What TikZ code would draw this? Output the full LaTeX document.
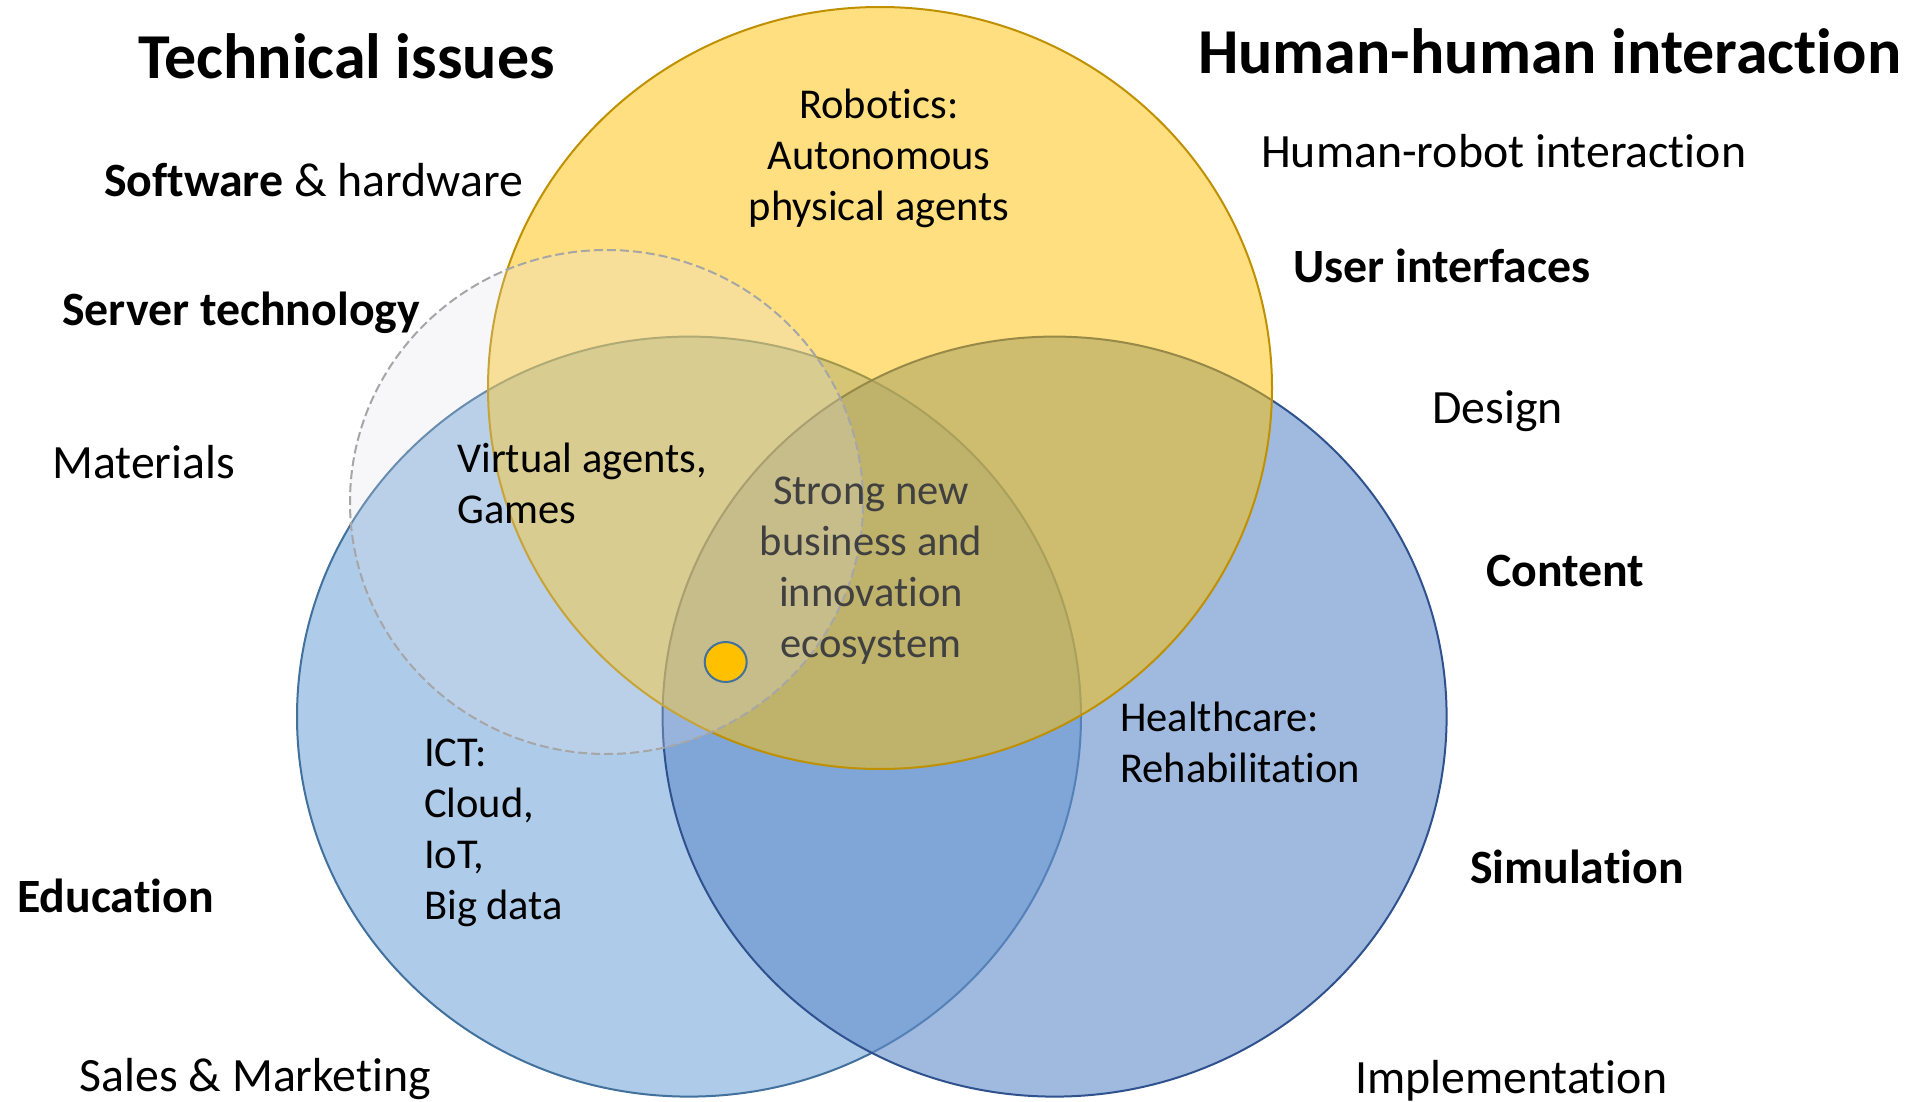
\documentclass[tikz,border=0pt]{standalone}
\usepackage{fontspec}
\setmainfont{Carlito}[Ligatures=NoCommon]
\usetikzlibrary{shapes.geometric}

% stacked lines whose first baseline is the box baseline
\newcommand{\txtlines}[2][c]{\begin{tabular}[t]{@{}#1@{}}#2\end{tabular}}

\definecolor{blueL}{RGB}{174,203,233}
\definecolor{blueLedge}{RGB}{65,113,156}
\definecolor{blueR}{RGB}{98,140,203}
\definecolor{blueRedge}{RGB}{47,82,143}
\definecolor{gold}{RGB}{255,192,0}
\definecolor{goldedge}{RGB}{191,144,0}
\definecolor{haze}{RGB}{225,225,235}
\definecolor{dashgray}{RGB}{166,166,166}
\definecolor{textgray}{RGB}{64,64,64}

\begin{document}
\begin{tikzpicture}[x=1pt,y=-1pt,
  title/.style={anchor=base west,inner sep=0pt,font=\fontsize{64}{77}\selectfont\bfseries},
  lbl/.style={anchor=base west,inner sep=0pt,font=\fontsize{47.8}{57}\selectfont},
  blbl/.style={lbl,font=\fontsize{47.8}{57}\selectfont\bfseries},
  area/.style={inner sep=0pt,font=\fontsize{42.5}{51}\selectfont},
  setL/.style={fill=blueL,draw=blueLedge,line width=2pt},
  setR/.style={fill=blueR,fill opacity=0.6,draw=blueRedge,line width=2pt},
  setY/.style={fill=gold,fill opacity=0.5,draw=goldedge,line width=2pt},
  setD/.style={fill=haze,fill opacity=0.25,draw=dashgray,line width=2pt,dash pattern=on 9pt off 4pt},
  marker/.style={ellipse,fill=gold,draw=blueLedge,line width=2pt,minimum width=42pt,minimum height=40pt,inner sep=0pt}]

% canvas
\fill[white] (0,0) rectangle (1923,1102);
\useasboundingbox (0,0) rectangle (1923,1102);

% centres of the sets
\coordinate (cL) at (689,716.6);
\coordinate (cR) at (1054.6,716.6);
\coordinate (cY) at (880,388);
\coordinate (cD) at (606.5,502);

% sets, back to front
\path[setL] (cL) ellipse [x radius=392pt,y radius=380pt];
\path[setR] (cR) ellipse [x radius=392pt,y radius=380pt];
\path[setY] (cY) ellipse [x radius=392pt,y radius=381pt];
\path[setD] (cD) ellipse [x radius=256.5pt,y radius=252pt];

% marker
\node[marker] (dot) at (725.7,662) {};

% headings
\node[title] (tech) at (138,79) {Technical issues};
\node[title] (hhi) at (1198,73.5) {Human-human interaction};

% left-hand labels
\node[lbl] (sw) at (104,197) {\textbf{Software} \& hardware};
\node[blbl] (srv) at (62,325) {Server technology};
\node[lbl] (mat) at (52,478) {Materials};
\node[blbl] (edu) at (17,912) {Education};
\node[lbl] (sales) at (79.5,1091) {Sales \& Marketing};

% right-hand labels
\node[lbl] (hri) at (1261,168) {Human-robot interaction};
\node[blbl] (ui) at (1293,283) {User interfaces};
\node[lbl] (des) at (1432,423) {Design};
\node[blbl] (cont) at (1486,586) {Content};
\node[blbl] (sim) at (1470,883) {Simulation};
\node[lbl] (impl) at (1355,1093) {Implementation};

% texts inside the sets
\node[area,anchor=base] (rob) at (879,118.3)
  {\txtlines{Robotics:\\Autonomous\\physical agents}};
\node[area,anchor=base west] (virt) at (457,472)
  {\txtlines[l]{Virtual agents,\\Games}};
\node[area,anchor=base,text=textgray] (eco) at (871,504)
  {\txtlines{Strong new\\business and\\innovation\\ecosystem}};
\node[area,anchor=base west] (ict) at (424,766)
  {\txtlines[l]{ICT:\\Cloud,\\IoT,\\Big data}};
\node[area,anchor=base west] (health) at (1120,731)
  {\txtlines[l]{Healthcare:\\Rehabilitation}};

\end{tikzpicture}
\end{document}
